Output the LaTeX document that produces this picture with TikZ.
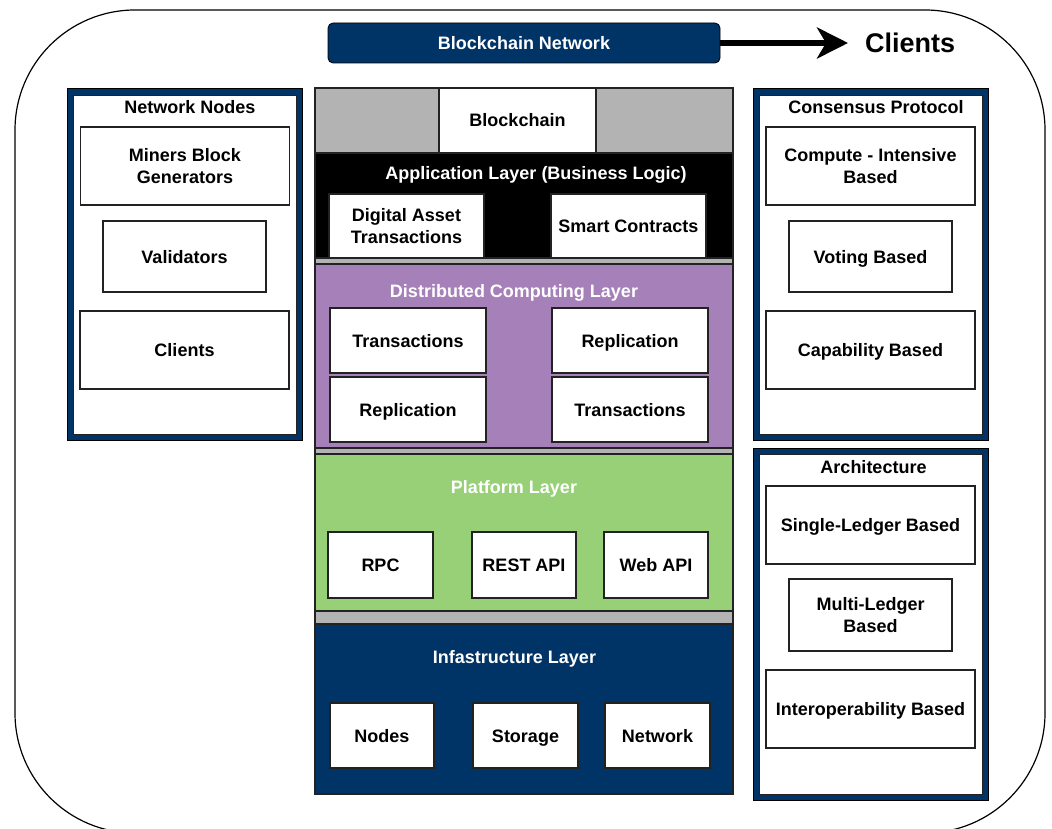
\documentclass[tikz,border=0pt]{standalone}
\usepackage{fontspec}
\setmainfont{Liberation Sans}
\usetikzlibrary{arrows.meta}
\definecolor{navy}{HTML}{003366}
\definecolor{purp}{HTML}{A680B8}
\definecolor{grn}{HTML}{97D077}
\definecolor{gry}{HTML}{B3B3B3}
\definecolor{edge}{HTML}{222222}
\tikzset{
  txt/.style={font=\fontsize{18}{22}\selectfont\bfseries, align=center},
  one/.style={text height=15pt, text depth=2pt},
  wbox/.style={txt, draw=edge, line width=1.3pt, fill=white, inner sep=0pt},
  band/.style={draw=edge, line width=1.2pt},
  panel/.style={draw=black, line width=0.8pt, fill=navy},
  ptitle/.style={txt, one, inner sep=0pt},
  ltitle/.style={txt, one, text=white, inner sep=0pt},
}
\begin{document}
\begin{tikzpicture}[x=1pt,y=-1pt]
\useasboundingbox (0,0) rectangle (1052,829);
\clip (0,0) rectangle (1052,829);
% outer frame
\draw[line width=1.2pt, rounded corners=120pt] (15,10) rectangle (1045,833);

% header
\node[txt, one, text=white, fill=navy, draw=black, line width=0.8pt, rounded corners=5pt,
      minimum width=392pt, minimum height=40pt, inner sep=0pt] (bn) at (524,43) {Blockchain Network};
\node[font=\fontsize{27}{30}\selectfont\bfseries, inner sep=0pt, anchor=west, text height=21pt, text depth=2pt] (cl) at (865,43) {Clients};
\draw[line width=5.5pt, -{Stealth[length=31pt,width=31pt,inset=9pt]}, shorten >=17pt] (bn.east) -- (cl.west);

% left panel
\draw[panel] (67,88) rectangle (302,440);
\draw[fill=white, draw=edge, line width=0.8pt] (73,95) rectangle (296,434);
\node[ptitle] (nnt) at (190,107) {Network Nodes};
\node[wbox, minimum width=209pt, minimum height=78pt] (miners) at (185,166) {Miners Block\\Generators};
\node[wbox, one, minimum width=163pt, minimum height=71pt] (valid) at (184.5,256.5) {Validators};
\node[wbox, one, minimum width=209pt, minimum height=78pt] (lcli) at (184.5,350) {Clients};

% center stack
\draw[band, fill=gry] (315,88) rectangle (733,153);
\node[wbox, one, minimum width=157pt, minimum height=65pt] (bc) at (517.5,120.5) {Blockchain};
\draw[band, fill=black] (315,153) rectangle (733,258);
\node[ltitle] (appt) at (536,173) {Application Layer (Business Logic)};
\node[wbox, minimum width=155pt, minimum height=64pt] (dat) at (406.5,226) {Digital Asset\\Transactions};
\node[wbox, one, minimum width=155pt, minimum height=64pt] (sc) at (628.5,226) {Smart Contracts};
\draw[band, fill=gry] (315,258) rectangle (733,264);

\draw[band, fill=purp] (315,264) rectangle (733,448);
\node[ltitle] (dct) at (514,291) {Distributed Computing Layer};
\node[wbox, one, minimum width=156pt, minimum height=65pt] (tr1) at (408,340.5) {Transactions};
\node[wbox, one, minimum width=156pt, minimum height=65pt] (re1) at (630,340.5) {Replication};
\node[wbox, one, minimum width=156pt, minimum height=65pt] (re2) at (408,409.5) {Replication};
\node[wbox, one, minimum width=156pt, minimum height=65pt] (tr2) at (630,409.5) {Transactions};
\draw[band, fill=gry] (315,448) rectangle (733,454);

\draw[band, fill=grn] (315,454) rectangle (733,611);
\node[ltitle] (plt) at (514,487) {Platform Layer};
\node[wbox, one, minimum width=105pt, minimum height=66pt] (rpc) at (380.5,565) {RPC};
\node[wbox, one, minimum width=104pt, minimum height=66pt] (rest) at (524,565) {REST API};
\node[wbox, one, minimum width=104pt, minimum height=66pt] (web) at (656,565) {Web API};
\draw[band, fill=gry] (315,611) rectangle (733,624);

\draw[band, fill=navy] (315,624) rectangle (733,794);
\node[ltitle] (inft) at (514.5,657) {Infastructure Layer};
\node[wbox, one, minimum width=104pt, minimum height=65pt] (nodes) at (382,735.5) {Nodes};
\node[wbox, one, minimum width=105pt, minimum height=65pt] (stor) at (525.5,735.5) {Storage};
\node[wbox, one, minimum width=105pt, minimum height=65pt] (netw) at (657.5,735.5) {Network};

% right panels
\draw[panel] (753,88) rectangle (988,440);
\draw[fill=white, draw=edge, line width=0.8pt] (759,95) rectangle (982,434);
\node[ptitle] (cpt) at (876,107) {Consensus Protocol};
\node[wbox, minimum width=209pt, minimum height=78pt] (comp) at (870.5,166) {Compute - Intensive\\Based};
\node[wbox, one, minimum width=163pt, minimum height=71pt] (vote) at (870.5,256.5) {Voting Based};
\node[wbox, one, minimum width=209pt, minimum height=78pt] (capa) at (870.5,350) {Capability Based};

\draw[panel] (753,448) rectangle (988,800);
\draw[fill=white, draw=edge, line width=0.8pt] (759,454) rectangle (982,794);
\node[ptitle] (arct) at (873.5,467) {Architecture};
\node[wbox, one, minimum width=209pt, minimum height=78pt] (single) at (870.5,525) {Single-Ledger Based};
\node[wbox, minimum width=163pt, minimum height=72pt] (multi) at (870.5,615) {Multi-Ledger\\Based};
\node[wbox, one, minimum width=209pt, minimum height=78pt] (inter) at (870.5,709) {Interoperability Based};
\end{tikzpicture}
\end{document}
